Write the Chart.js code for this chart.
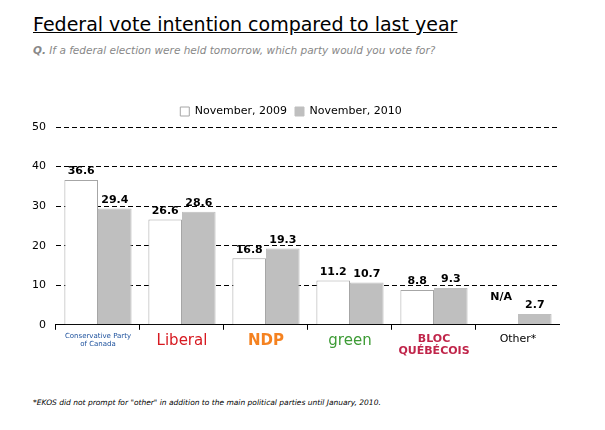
<!DOCTYPE html>
<html>
<head>
<meta charset="utf-8">
<script src="https://cdn.jsdelivr.net/npm/chart.js@4"></script>
<style>
  body { margin: 0; background: #fff; font-family: Verdana, "DejaVu Sans", sans-serif; }
  #title { position: absolute; left: 33px; top: 13px; font-size: 19px; text-decoration: underline; color: #000; }
  #sub { position: absolute; left: 33px; top: 44px; font-size: 10.5px; font-style: italic; color: #888; }
  #note { position: absolute; left: 33px; top: 398px; font-size: 7.5px; font-style: italic; color: #000; }
  #wrap { position: absolute; left: 22px; top: 98px; width: 538px; height: 262px; }
</style>
</head>
<body>
<div id="title">Federal vote intention compared to last year</div>
<div id="sub"><b>Q.</b> If a federal election were held tomorrow, which party would you vote for?</div>
<div id="wrap"><canvas id="voteChart"></canvas></div>
<div id="note">*EKOS did not prompt for "other" in addition to the main political parties until January, 2010.</div>
<script>
const parties = [['Conservative Party', 'of Canada'], 'Liberal', 'NDP', 'green', ['BLOC', 'QUÉBÉCOIS'], 'Other*'];
const partyColors = ['#1a4f9c', '#d71920', '#f58220', '#3d9b35', '#c0254a', '#000'];
const nov2009 = [36.6, 26.6, 16.8, 11.2, 8.8, null];
const nov2010 = [29.4, 28.6, 19.3, 10.7, 9.3, 2.7];
const yTicks = [0, 10, 20, 30, 40, 50];

const valueLabels = {
  id: 'valueLabels',
  afterDatasetsDraw(chart) {
    const ctx = chart.ctx;
    ctx.save();
    ctx.font = 'bold 11px Verdana, "DejaVu Sans", sans-serif';
    ctx.fillStyle = '#000';
    ctx.textAlign = 'center';
    ctx.textBaseline = 'bottom';
    chart.data.datasets.forEach((ds, i) => {
      chart.getDatasetMeta(i).data.forEach((bar, j) => {
        const v = ds.data[j];
        if (v === null) {
          ctx.fillText('N/A', bar.x, chart.scales.y.getPixelForValue(0) - 22);
        } else {
          ctx.fillText(v.toFixed(1), bar.x, bar.y - 3);
        }
      });
    });
    ctx.restore();
  }
};

new Chart(document.getElementById('voteChart').getContext('2d'), {
  type: 'bar',
  data: {
    labels: parties,
    datasets: [{
      label: 'November, 2009',
      data: nov2009,
      backgroundColor: '#ffffff',
      borderColor: '#a6a6a6',
      borderWidth: 1,
      barPercentage: 1,
      categoryPercentage: 0.8,
    }, {
      label: 'November, 2010',
      data: nov2010,
      backgroundColor: '#bfbfbf',
      borderColor: '#bfbfbf',
      borderWidth: 1,
      barPercentage: 1,
      categoryPercentage: 0.8,
    }]
  },
  options: {
    responsive: true,
    maintainAspectRatio: false,
    animation: false,
    scales: {
      x: {
        grid: { offset: true, drawOnChartArea: false, color: '#000', tickLength: 5 },
        border: { color: '#000' },
        ticks: {
          maxRotation: 0, minRotation: 0, autoSkip: false,
          color: (c) => partyColors[c.index],
          font: (c) => ({
            family: 'Verdana, "DejaVu Sans", sans-serif',
            size: [7, 15, 15, 15, 11, 11][c.index],
            weight: c.index === 2 || c.index === 4 ? 'bold' : 'normal',
            lineHeight: 1.1
          }),
        }
      },
      y: {
        min: 0, max: 50,
        afterBuildTicks: (axis) => { axis.ticks = yTicks.map(v => ({ value: v })); },
        grid: { color: (c) => c.tick.value === 0 ? 'transparent' : '#000', drawTicks: false },
        border: { display: false, dash: [5, 3] },
        ticks: { color: '#000', padding: 10, font: { family: 'Verdana, "DejaVu Sans", sans-serif', size: 11 } }
      }
    },
    plugins: {
      legend: {
        labels: {
          boxWidth: 9, boxHeight: 9, color: '#000', padding: 8,
          font: { family: 'Verdana, "DejaVu Sans", sans-serif', size: 11 }
        }
      },
      tooltip: { enabled: false }
    }
  },
  plugins: [valueLabels]
});
</script>
</body>
</html>
